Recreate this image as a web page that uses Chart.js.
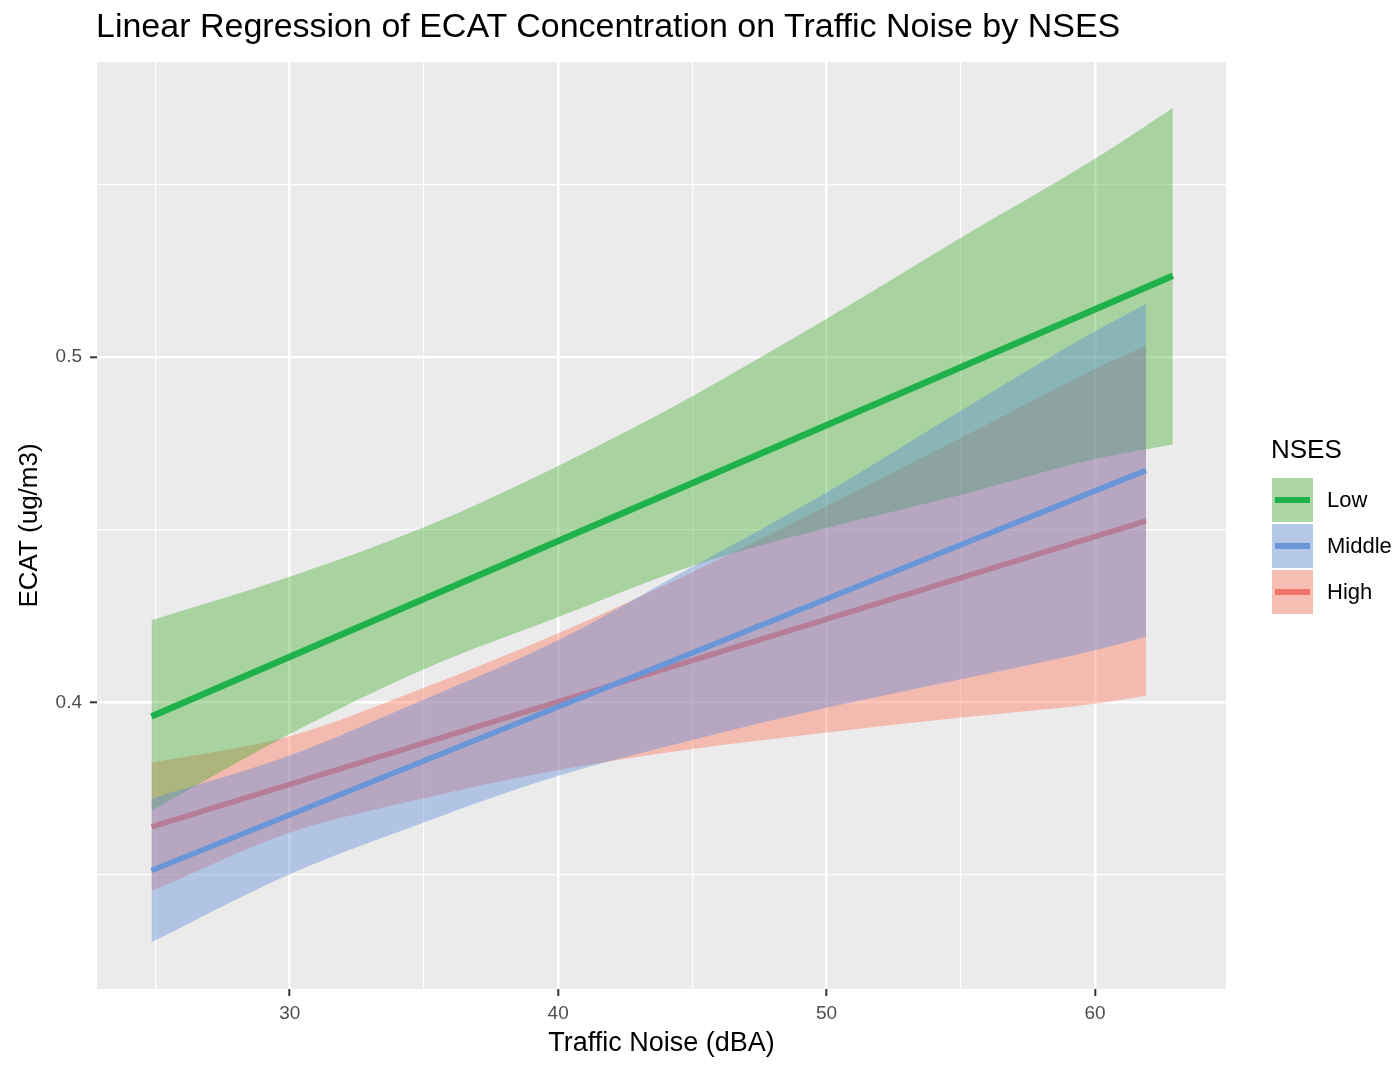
<!DOCTYPE html>
<html>
<head>
<meta charset="utf-8">
<script src="https://cdn.jsdelivr.net/npm/chart.js@4.4.1/dist/chart.umd.min.js"></script>
<style>
  html, body { margin:0; padding:0; background:#ffffff; overflow:hidden; }
  #wrap { position:relative; width:1399px; height:1065px; font-family:"Liberation Sans", Arial, sans-serif; }
  #c { position:absolute; left:0; top:0; }
  .txt { position:absolute; white-space:nowrap; color:#000; }
  .key { position:absolute; left:1272px; width:41px; height:44px; background:#f2f2f2; }
  .key .f { position:absolute; left:0; top:0; width:100%; height:100%; }
  .key .l { position:absolute; left:3px; width:35px; top:19px; height:6px; }
</style>
</head>
<body>
<div id="wrap">
  <canvas id="c" width="1399" height="1065"></canvas>
  <div class="txt" id="title" style="left:96px; top:6px; font-size:34px; line-height:38px;">Linear Regression of ECAT Concentration on Traffic Noise by NSES</div>
  <div class="txt" style="left:1271px; top:434px; font-size:26px; line-height:30px;">NSES</div>
  <div class="key" style="top:478px;"><div class="f" style="background:rgba(68,175,48,0.4)"></div><div class="l" style="background:#20b24a"></div></div>
  <div class="key" style="top:524px;"><div class="f" style="background:rgba(92,137,217,0.4)"></div><div class="l" style="background:#6896d8"></div></div>
  <div class="key" style="top:570px;"><div class="f" style="background:rgba(255,112,85,0.4)"></div><div class="l" style="background:#f2766b"></div></div>
  <div class="txt" style="left:1327px; top:487px; font-size:22px; line-height:26px;">Low</div>
  <div class="txt" style="left:1327px; top:533px; font-size:22px; line-height:26px;">Middle</div>
  <div class="txt" style="left:1327px; top:579px; font-size:22px; line-height:26px;">High</div>
</div>
<script>
// ---- data ----
const lowX     = [24.85, 30, 35, 40, 45, 50, 55, 60, 62.9];
const lowUpper = [0.4238, 0.4364, 0.4507, 0.4685, 0.4887, 0.5111, 0.5346, 0.5575, 0.5722];
const lowLower = [0.3686, 0.3908, 0.4096, 0.4247, 0.4395, 0.4505, 0.4601, 0.4705, 0.4747];
const lowLineX = [24.85, 62.9];
const lowLine  = [0.3959, 0.5236];

const midX     = [24.85, 30, 35, 40, 45, 50, 55, 60, 61.9];
const midUpper = [0.3721, 0.3846, 0.4008, 0.4180, 0.4393, 0.4608, 0.4845, 0.5075, 0.5154];
const midLower = [0.3305, 0.3502, 0.3652, 0.3787, 0.3891, 0.3984, 0.4067, 0.4151, 0.4190];
const midLineX = [24.85, 61.9];
const midLine  = [0.3513, 0.4672];

const highX     = [24.85, 30, 35, 40, 45, 50, 55, 60, 61.9];
const highUpper = [0.3825, 0.3902, 0.4042, 0.4200, 0.4377, 0.4569, 0.4766, 0.4966, 0.5033];
const highLower = [0.3453, 0.3622, 0.3722, 0.3804, 0.3865, 0.3913, 0.3956, 0.3996, 0.4019];
const highLineX = [24.85, 61.9];
const highLine  = [0.3639, 0.4526];

const xTicks = [25, 30, 35, 40, 45, 50, 55, 60];
const xLabels = [30, 40, 50, 60];
const yTicks = [0.35, 0.40, 0.45, 0.50, 0.55];
const yLabels = [0.4, 0.5];

const xRange = [22.82, 64.88];
const yRange = [0.31696, 0.5855];

// ---- helpers ----
const pts = (xs, ys) => xs.map((x, i) => ({x: x, y: ys[i]}));
const isLab = (v, labs) => labs.some(l => Math.abs(l - v) < 1e-9);

const lineDs = (xs, ys, color, w) => ({
  data: pts(xs, ys), borderColor: color, borderWidth: w, pointRadius: 0, fill: false,
  borderCapStyle: 'butt', tension: 0
});
const upperDs = (xs, ys, fillColor) => ({
  data: pts(xs, ys), borderWidth: 0, borderColor: 'rgba(0,0,0,0)', pointRadius: 0,
  fill: '+1', backgroundColor: fillColor, cubicInterpolationMode: 'monotone'
});
const lowerDs = (xs, ys) => ({
  data: pts(xs, ys), borderWidth: 0, borderColor: 'rgba(0,0,0,0)', pointRadius: 0, fill: false,
  cubicInterpolationMode: 'monotone'
});

// Datasets listed top-most first (Chart.js draws the last one first).
// Drawing order in the reference: High, Low, Middle.
const datasets = [
  lineDs(midLineX, midLine, '#6896d8', 5.5),
  upperDs(midX, midUpper, 'rgba(92,137,217,0.4)'),
  lowerDs(midX, midLower),
  lineDs(lowLineX, lowLine, '#20b24a', 6.5),
  upperDs(lowX, lowUpper, 'rgba(68,175,48,0.4)'),
  lowerDs(lowX, lowLower),
  lineDs(highLineX, highLine, '#f2766b', 5.5),
  upperDs(highX, highUpper, 'rgba(255,112,85,0.4)'),
  lowerDs(highX, highLower)
];

const panelBg = {
  id: 'panelBg',
  beforeDraw(chart) {
    const {ctx, chartArea: a} = chart;
    ctx.save();
    ctx.fillStyle = '#ebebeb';
    ctx.fillRect(a.left, a.top, a.right - a.left, a.bottom - a.top);
    ctx.restore();
  }
};

const FONT = '"Liberation Sans", Arial, sans-serif';

new Chart(document.getElementById('c'), {
  type: 'line',
  data: { datasets: datasets },
  plugins: [panelBg],
  options: {
    responsive: false,
    animation: false,
    events: [],
    layout: { padding: { left: 0, top: 62, right: 173, bottom: 0 } },
    plugins: { legend: { display: false }, tooltip: { enabled: false }, title: { display: false } },
    scales: {
      x: {
        type: 'linear', min: xRange[0], max: xRange[1],
        afterBuildTicks: s => { s.ticks = xTicks.map(v => ({value: v})); },
        afterFit: s => { s.height = 76; },
        border: { display: false },
        grid: {
          color: '#ffffff',
          lineWidth: c => (c.tick && isLab(c.tick.value, xLabels)) ? 2.6 : 1.2,
          tickColor: c => (c.tick && isLab(c.tick.value, xLabels)) ? '#333333' : 'rgba(0,0,0,0)',
          tickWidth: 2, tickLength: 7
        },
        ticks: {
          autoSkip: false, maxRotation: 0, padding: 6, color: '#4d4d4d',
          font: { family: FONT, size: 19 },
          callback: v => isLab(v, xLabels) ? String(v) : ''
        },
        title: {
          display: true, text: 'Traffic Noise (dBA)', color: '#000',
          font: { family: FONT, size: 27 }, padding: { top: 0, bottom: 5 }
        }
      },
      y: {
        type: 'linear', min: yRange[0], max: yRange[1],
        afterBuildTicks: s => { s.ticks = yTicks.map(v => ({value: v})); },
        afterFit: s => { s.width = 97; },
        border: { display: false },
        grid: {
          color: '#ffffff',
          lineWidth: c => (c.tick && isLab(c.tick.value, yLabels)) ? 2.6 : 1.2,
          tickColor: c => (c.tick && isLab(c.tick.value, yLabels)) ? '#333333' : 'rgba(0,0,0,0)',
          tickWidth: 2, tickLength: 7
        },
        ticks: {
          autoSkip: false, padding: 8, color: '#4d4d4d',
          font: { family: FONT, size: 19 },
          callback: v => isLab(v, yLabels) ? v.toFixed(1) : ''
        },
        title: {
          display: true, text: 'ECAT (ug/m3)', color: '#000',
          font: { family: FONT, size: 26 }, padding: { top: 14, bottom: 0 }
        }
      }
    }
  }
});
</script>
</body>
</html>
